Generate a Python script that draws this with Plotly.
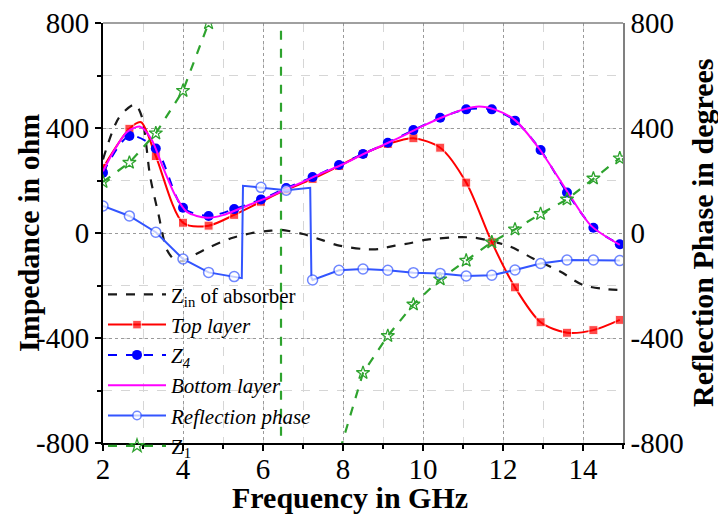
import plotly.graph_objects as go

FONT = "Liberation Serif, Times New Roman, serif"

# marker positions shared by the marked curves (GHz)
freq_marks = [2.0, 2.66, 3.32, 4.0, 4.64, 5.28, 5.95, 6.58, 7.24, 7.9, 8.5,
              9.12, 9.76, 10.43, 11.08, 11.72, 12.3, 12.94, 13.6, 14.26, 14.92]

# axis ticks
x_ticks = [2, 4, 6, 8, 10, 12, 14]
y_ticks = [-800, -400, 0, 400, 800]
y_tick_text = ["-800", "-400", "0", "400", "800"]

# Z_in of absorber (ohm)
zin_f = [2.0, 2.4, 2.8, 2.97, 3.18, 3.38, 3.6, 3.8, 4.0, 4.2, 4.7, 5.2, 5.7, 6.2,
         6.45, 7.0, 7.5, 7.85, 8.5, 8.9, 9.3, 9.7, 10.1, 10.9, 11.3, 11.6, 12.18,
         12.75, 13.43, 14.0, 14.6, 15.0]
zin_z = [280, 440, 490, 443, 214, 76, -65, -103, -107, -90, -52, -20, -1, 9,
         12, -4, -28, -46, -61, -61, -48, -38, -25, -16, -18, -27, -52,
         -97, -147, -198, -214, -217]

# Top layer (ohm)
top_f = [2.0, 2.66, 2.95, 3.32, 4.0, 4.64, 5.28, 5.95, 6.58, 7.24, 7.9, 8.5, 9.12,
         9.76, 10.43, 11.08, 11.72, 12.3, 12.94, 13.6, 14.26, 14.92]
top_z = [248, 397, 422, 293, 39, 28, 69, 119, 165, 206, 255, 301, 339,
         361, 325, 192, -35, -207, -340, -380, -370, -331]

# Z4 (ohm)
z4_f = freq_marks
z4_z = [230, 370, 322, 96, 65, 91, 128, 171, 213, 259, 301, 344, 392, 439,
        471, 471, 428, 316, 154, 20, -43]

# Bottom layer (ohm)
bot_f = [2.0, 2.3, 2.6, 2.93, 3.2, 3.5, 3.8, 4.1, 4.6, 5.0, 5.5, 6.0, 6.5, 7.0,
         7.5, 8.0, 8.5, 9.0, 9.5, 10.0, 10.5, 11.0, 11.4, 11.8, 12.3, 12.9, 13.6,
         14.2, 14.92]
bot_z = [235, 320, 385, 405, 360, 250, 145, 80, 58, 68, 98, 128, 162, 195,
         230, 262, 300, 335, 370, 408, 442, 470, 482, 470, 430, 322, 160,
         28, -45]

# Reflection phase (degrees)
rp_f = [2.0, 2.66, 3.32, 4.0, 4.64, 5.28, 5.47, 5.5, 5.95, 6.58, 7.18, 7.21, 7.24,
        7.9, 8.5, 9.12, 9.76, 10.43, 11.08, 11.72, 12.3, 12.94, 13.6, 14.26, 14.92]
rp_deg = [103, 65, 3, -99, -150, -166, -172, 180, 174, 163, 172, -170, -179,
          -142, -137, -142, -151, -154, -164, -161, -141, -116, -103, -103, -105]

# Z1 (ohm)
z1_f = [2.0, 2.66, 3.32, 4.0, 4.64, 5.28, 5.95, 6.44, 6.46, 6.58, 7.24, 7.9, 8.5,
        9.12, 9.76, 10.43, 11.08, 11.72, 12.3, 12.94, 13.6, 14.26, 14.92]
z1_z = [195, 268, 380, 542, 800, 1300, 2700, 40000, -40000, -12000, -2200, -840,
        -533, -392, -272, -176, -105, -35, 14, 73, 128, 208, 285]


def sizes(xs, s):
    return [s if any(abs(x - m) < 1e-9 for m in freq_marks) else 0 for x in xs]


fig = go.Figure()

fig.add_trace(go.Scatter(
    x=zin_f, y=zin_z, mode="lines", name="Z<sub>in</sub> of absorber",
    line=dict(color="#1a1a1a", width=2.2, dash="dash", shape="spline", smoothing=0.8),
    legendrank=1))

fig.add_trace(go.Scatter(
    x=top_f, y=top_z, mode="lines+markers", name="<i>Top layer</i>",
    line=dict(color="#ff0000", width=2, shape="spline", smoothing=0.8),
    marker=dict(symbol="square", size=sizes(top_f, 9), color="#ff0000"),
    legendrank=2))

fig.add_trace(go.Scatter(
    x=z4_f, y=z4_z, mode="lines+markers", name="<i>Z<sub>4</sub></i>",
    line=dict(color="#0000ff", width=2, dash="dash", shape="spline", smoothing=0.8),
    marker=dict(symbol="circle", size=10, color="#0000ff"),
    legendrank=3))

fig.add_trace(go.Scatter(
    x=bot_f, y=bot_z, mode="lines", name="<i>Bottom layer</i>",
    line=dict(color="#ff00ff", width=2, shape="spline", smoothing=0.8),
    legendrank=4))

fig.add_trace(go.Scatter(
    x=z1_f, y=z1_z, mode="lines+markers", name="Z<sub>1</sub>",
    line=dict(color="#2ea32e", width=2.2, dash="dash"),
    marker=dict(symbol="star-open", size=10, color="#2ea32e", line=dict(width=1.3)),
    legendrank=6))

fig.add_trace(go.Scatter(
    x=rp_f, y=rp_deg, mode="lines+markers", name="<i>Reflection phase</i>",
    yaxis="y2",
    line=dict(color="#3355ff", width=2),
    marker=dict(symbol="circle", size=sizes(rp_f, 10), color="white",
                line=dict(color="#3355ff", width=1.5)),
    legendrank=5))

tick_font = dict(family=FONT, size=29, color="black")
title_font = dict(family=FONT, size=30, color="black")

fig.update_layout(
    width=718, height=515,
    margin=dict(l=103, r=95, t=23, b=72, autoexpand=False),
    paper_bgcolor="white", plot_bgcolor="white",
    font=dict(family=FONT, color="black"),
    xaxis=dict(
        range=[2, 15], tickvals=x_ticks, showgrid=True, automargin=False,
        gridcolor="#9a9a9a", griddash="dot", gridwidth=1,
        showline=True, linecolor="black", linewidth=2,
        ticks="outside", ticklen=6, tickwidth=1.5, tickcolor="black",
        tickfont=tick_font, zeroline=False, ticklabelstandoff=-7,
        minor=dict(dtick=1, tick0=2, showgrid=True, gridcolor="#d6d6d6",
                   griddash="dash", ticks="outside", ticklen=4, tickcolor="black"),
    ),
    yaxis=dict(
        range=[-800, 800], tickvals=y_ticks, ticktext=y_tick_text, showgrid=True,
        automargin=False,
        gridcolor="#9a9a9a", griddash="dot", gridwidth=1,
        showline=True, linecolor="black", linewidth=2,
        ticks="outside", ticklen=6, tickwidth=1.5, tickcolor="black",
        tickfont=tick_font, zeroline=False,
        minor=dict(dtick=200, tick0=0, showgrid=True, gridcolor="#d6d6d6",
                   griddash="dash", ticks="outside", ticklen=4, tickcolor="black"),
    ),
    yaxis2=dict(
        overlaying="y", side="right", range=[-800, 800], automargin=False,
        tickvals=y_ticks, ticktext=y_tick_text,
        showgrid=False, zeroline=False,
        showline=True, linecolor="#808080", linewidth=1.5,
        ticks="", tickfont=tick_font,
    ),
    legend=dict(
        x=0.0, y=0.402, xanchor="left", yanchor="top",
        bgcolor="rgba(0,0,0,0)", borderwidth=0,
        font=dict(family=FONT, size=21, color="black"),
        itemwidth=58, tracegroupgap=0,
    ),
    showlegend=True,
)

fig.add_annotation(text="<b>Frequency in GHz</b>", xref="paper", yref="paper",
                   x=0.5, y=0, xshift=-13, yshift=-54, xanchor="center",
                   yanchor="middle", showarrow=False, font=title_font)
fig.add_annotation(text="<b>Impedance in ohm</b>", xref="paper", yref="paper",
                   x=0, y=0.5, xshift=-75, xanchor="center", yanchor="middle",
                   textangle=-90, showarrow=False, font=title_font)
fig.add_annotation(text="<b>Reflection Phase in degrees</b>", xref="paper", yref="paper",
                   x=1, y=0.5, xshift=79, xanchor="center", yanchor="middle",
                   textangle=-90, showarrow=False, font=title_font)

fig.add_shape(type="line", xref="paper", yref="paper", x0=0, x1=1, y0=1, y1=1,
              line=dict(color="#808080", width=1.5))

fig.write_html("out.html")
